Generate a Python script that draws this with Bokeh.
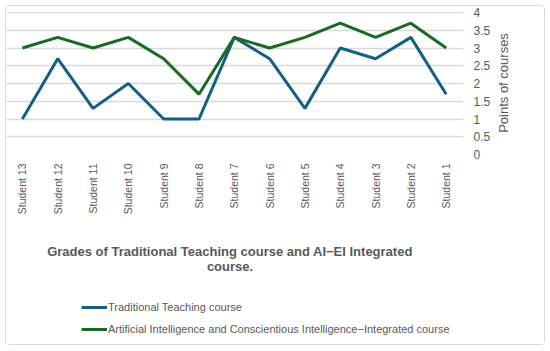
import math
from bokeh.plotting import figure
from bokeh.layouts import column, row
from bokeh.models import (LinearAxis, Range1d, FixedTicker, Legend, LegendItem, Label)
from bokeh.embed import file_html
from bokeh.resources import INLINE

categories = ["Student 13", "Student 12", "Student 11", "Student 10", "Student 9",
              "Student 8", "Student 7", "Student 6", "Student 5", "Student 4",
              "Student 3", "Student 2", "Student 1"]
traditional = [1.0, 2.7, 1.3, 2.0, 1.0, 1.0, 3.3, 2.7, 1.3, 3.0, 2.7, 3.3, 1.7]
integrated = [3.0, 3.3, 3.0, 3.3, 2.7, 1.7, 3.3, 3.0, 3.3, 3.7, 3.3, 3.7, 3.0]
y_ticks = [0, 0.5, 1, 1.5, 2, 2.5, 3, 3.5, 4]
y_tick_labels = ["0", "0.5", "1", "1.5", "2", "2.5", "3", "3.5", "4"]
y_axis_title = "Points of courses"
title_lines = ["Grades of Traditional Teaching course and AI\u2212EI Integrated", "course."]
series_names = ["Traditional Teaching course",
                "Artificial Intelligence and Conscientious Intelligence\u2212Integrated course"]

FONT = "Liberation Sans"
GRAY = "#595959"
BLUE = "#156082"
GREEN = "#196B24"
xs = list(range(len(categories)))

# ---------------- chart ----------------
p = figure(width=486, height=214, frame_width=457, frame_height=143,
           output_backend="svg", toolbar_location=None,
           x_range=Range1d(-0.45, 12.49), y_range=Range1d(0, 4.03),
           y_axis_location=None, min_border_left=0, min_border_top=5,
           min_border_right=29, min_border_bottom=66)
p.outline_line_color = None
p.background_fill_color = "white"
p.border_fill_color = "white"

p.line(xs, traditional, line_color=BLUE, line_width=3)
p.line(xs, integrated, line_color=GREEN, line_width=3)

xa = p.xaxis[0]
xa.ticker = FixedTicker(ticks=xs)
xa.major_label_overrides = {i: c for i, c in enumerate(categories)}
xa.major_label_orientation = 1.5708
xa.axis_line_color = None
xa.major_tick_line_color = None
xa.minor_tick_line_color = None
xa.major_tick_out = 0
xa.major_label_standoff = 9
xa.major_label_text_font = FONT
xa.major_label_text_font_size = "10.5px"
xa.major_label_text_color = GRAY
p.xgrid.grid_line_color = None

ya = LinearAxis(ticker=FixedTicker(ticks=y_ticks))
ya.major_label_overrides = {t: s for t, s in zip(y_ticks, y_tick_labels)}
ya.axis_line_color = None
ya.major_tick_line_color = None
ya.minor_tick_line_color = None
ya.major_tick_out = 0
ya.major_label_standoff = 10
ya.major_label_text_font = FONT
ya.major_label_text_font_size = "12px"
ya.major_label_text_color = GRAY
p.add_layout(ya, "right")
p.ygrid.ticker = FixedTicker(ticks=y_ticks)
p.ygrid.grid_line_color = "#d9d9d9"
p.ygrid.grid_line_width = 1.3

# ---------------- vertical axis title (reads bottom to top) ----------------
r = figure(width=20, height=214, output_backend="svg", toolbar_location=None,
           x_range=Range1d(0, 1), y_range=Range1d(0, 1),
           x_axis_location=None, y_axis_location=None,
           min_border_left=0, min_border_right=0, min_border_top=5, min_border_bottom=66)
r.outline_line_color = None
r.xgrid.grid_line_color = None
r.ygrid.grid_line_color = None
r.add_layout(Label(x=0.5, y=0.5, text=y_axis_title, angle=math.pi / 2,
                   text_align="center", text_baseline="middle", text_font=FONT,
                   text_font_size="13px", text_color=GRAY))

# ---------------- title + legend area ----------------
q = figure(width=538, height=124, output_backend="svg", toolbar_location=None,
           x_range=Range1d(6, 463), y_range=Range1d(344, 220),
           x_axis_location=None, y_axis_location=None,
           min_border_left=0, min_border_right=81, min_border_top=0, min_border_bottom=0)
q.outline_line_color = None
q.xgrid.grid_line_color = None
q.ygrid.grid_line_color = None
q.background_fill_color = "white"
q.border_fill_color = "white"

for txt, yy in zip(title_lines, [251, 266]):
    q.add_layout(Label(x=229.5, y=yy, text=txt, text_align="center",
                       text_baseline="alphabetic", text_font=FONT,
                       text_font_size="13px", text_font_style="bold", text_color=GRAY))

# legend samples (same data; they lie outside this panel's visible range)
r1 = q.line(xs, traditional, line_color=BLUE, line_width=3)
r2 = q.line(xs, integrated, line_color=GREEN, line_width=3)
legend = Legend(items=[LegendItem(label=series_names[0], renderers=[r1]),
                       LegendItem(label=series_names[1], renderers=[r2])],
                location=(75, 5), orientation="vertical",
                label_text_font=FONT, label_text_font_size="11px", label_text_color=GRAY,
                glyph_width=26, glyph_height=20, label_height=20, label_standoff=1,
                spacing=2, padding=0, margin=0, border_line_color=None,
                background_fill_alpha=0)
q.add_layout(legend, "center")

layout = column(row(p, r, spacing=0), q, spacing=0, margin=(5, 5, 5, 5),
                styles={"border": "1px solid #d9d9d9", "border-radius": "4px"})

open("out.html", "w").write(file_html(layout, INLINE))
